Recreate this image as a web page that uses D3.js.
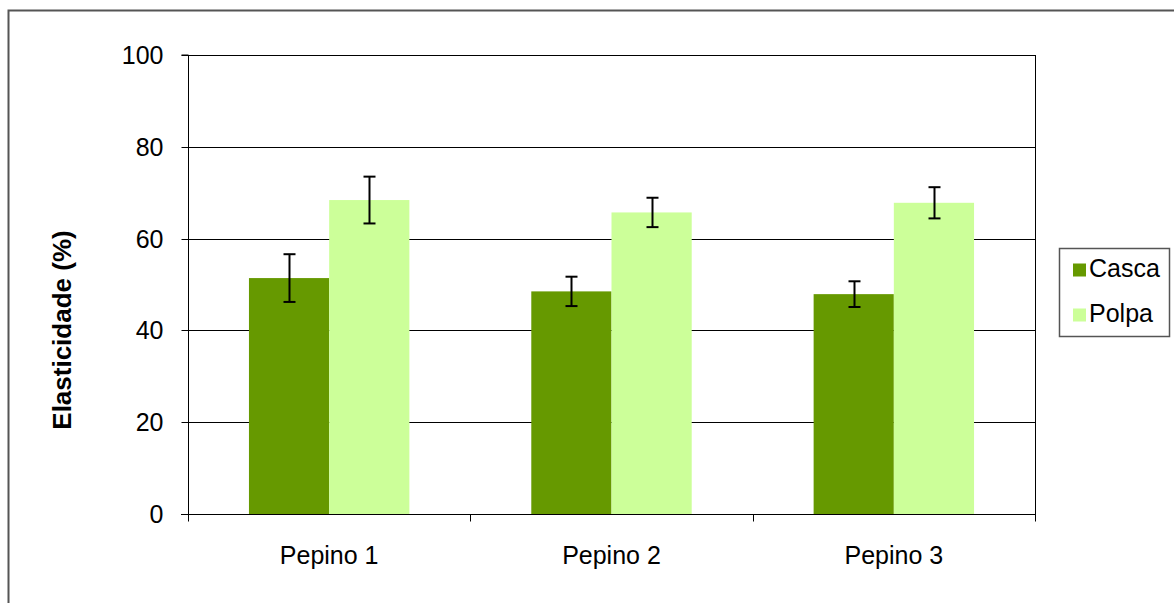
<!DOCTYPE html>
<html><head><meta charset="utf-8">
<script src="https://cdn.jsdelivr.net/npm/d3@7"></script>
<style>body{margin:0;background:#fff}svg{display:block}</style>
</head><body>
<svg id="c" width="1174" height="603"></svg>
<script>
const categories = ["Pepino 1", "Pepino 2", "Pepino 3"];
const seriesNames = ["Casca", "Polpa"];
const cascaValues = [51.4, 48.5, 47.9];
const cascaErrors = [5.2, 3.2, 2.8];
const polpaValues = [68.4, 65.7, 67.8];
const polpaErrors = [5.1, 3.2, 3.4];
const yTicks = [0, 20, 40, 60, 80, 100];
const colors = ["#669900", "#CCFF99"];

const series = [
  {name: seriesNames[0], values: cascaValues, errors: cascaErrors, color: colors[0]},
  {name: seriesNames[1], values: polpaValues, errors: polpaErrors, color: colors[1]}
];

const svg = d3.select("#c");
const font = "'Liberation Sans', Arial, sans-serif";
const FS = 25;
const L = 188, R = 1035, T = 55, B = 514;

// outer border
svg.append("rect").attr("x", 8.5).attr("y", 10.5).attr("width", 1180).attr("height", 620)
  .attr("fill", "none").attr("stroke", "#555").attr("stroke-width", 2);

const x = d3.scaleBand().domain(categories).range([L, R]).paddingInner(0).paddingOuter(0);
const y = d3.scaleLinear().domain([0, 100]).range([B, T]);
const xs = d3.scaleBand().domain(seriesNames).range([0, x.bandwidth()]).paddingInner(0).paddingOuter(0.76);

// gridlines
svg.append("g").selectAll("line").data(yTicks.filter(d => d > 0)).join("line")
  .attr("x1", L).attr("x2", R).attr("y1", d => Math.round(y(d)) + 0.5).attr("y2", d => Math.round(y(d)) + 0.5)
  .attr("stroke", "#000").attr("stroke-width", 1);
// right border
svg.append("line").attr("x1", R + 0.5).attr("x2", R + 0.5).attr("y1", T).attr("y2", B)
  .attr("stroke", "#000");

// bars
series.forEach(s => {
  svg.append("g").selectAll("rect").data(categories).join("rect")
    .attr("x", (c) => x(c) + xs(s.name))
    .attr("width", xs.bandwidth())
    .attr("y", (c, i) => y(s.values[i]))
    .attr("height", (c, i) => B - y(s.values[i]))
    .attr("fill", s.color);
});
// error bars
series.forEach(s => {
  const g = svg.append("g").attr("stroke", "#000").attr("stroke-width", 2);
  categories.forEach((c, i) => {
    const cx = Math.round(x(c) + xs(s.name) + xs.bandwidth() / 2) + 0.5;
    const y1 = y(s.values[i] + s.errors[i]), y2 = y(s.values[i] - s.errors[i]);
    g.append("line").attr("x1", cx).attr("x2", cx).attr("y1", y1).attr("y2", y2);
    g.append("line").attr("x1", cx - 6).attr("x2", cx + 6).attr("y1", y1).attr("y2", y1);
    g.append("line").attr("x1", cx - 6).attr("x2", cx + 6).attr("y1", y2).attr("y2", y2);
  });
});

// y axis
const yAxis = d3.axisLeft(y).tickValues(yTicks).tickSize(7).tickPadding(18).tickFormat(d3.format("d"));
const ya = svg.append("g").attr("transform", `translate(${L + 0.5},0)`).call(yAxis);
ya.select(".domain").attr("stroke", "#000").attr("d", `M-7,${T}H0V${B}`);
ya.selectAll(".tick line").attr("stroke", "#000");
ya.selectAll(".tick text").attr("font-family", font).attr("font-size", FS).attr("fill", "#000").attr("dy", "0.35em");
ya.selectAll(".tick").attr("transform", d => `translate(0,${Math.round(y(d)) + 0.5})`);

// x axis
const xa = svg.append("g").attr("transform", `translate(0,${B + 0.5})`);
xa.append("line").attr("x1", L - 7).attr("x2", R + 1).attr("y1", 0).attr("y2", 0).attr("stroke", "#000");
const edges = categories.map(c => x(c)).concat([R]);
xa.selectAll("line.t").data(edges).join("line").attr("class", "t")
  .attr("x1", d => Math.round(d) + 0.5).attr("x2", d => Math.round(d) + 0.5)
  .attr("y1", 0).attr("y2", 7).attr("stroke", "#000");
xa.selectAll("text").data(categories).join("text")
  .attr("x", c => x(c) + x.bandwidth() / 2).attr("y", 49)
  .attr("text-anchor", "middle").attr("font-family", font).attr("font-size", FS).attr("fill", "#000")
  .text(d => d);

// y title
svg.append("text").attr("transform", "translate(71,330) rotate(-90)")
  .attr("text-anchor", "middle").attr("font-family", font).attr("font-size", 26)
  .attr("font-weight", "bold").attr("fill", "#000").text("Elasticidade (%)");

// legend
const lg = svg.append("g");
lg.append("rect").attr("x", 1059.5).attr("y", 248.5).attr("width", 110).attr("height", 88)
  .attr("fill", "#fff").attr("stroke", "#555").attr("stroke-width", 1.5);
series.forEach((s, i) => {
  const base = 277 + i * 45;
  lg.append("rect").attr("x", 1073).attr("y", base - 13.5).attr("width", 13).attr("height", 13).attr("fill", s.color);
  lg.append("text").attr("x", 1089).attr("y", base)
    .attr("font-family", font).attr("font-size", FS).attr("fill", "#000").text(s.name);
});
</script>
</body></html>
